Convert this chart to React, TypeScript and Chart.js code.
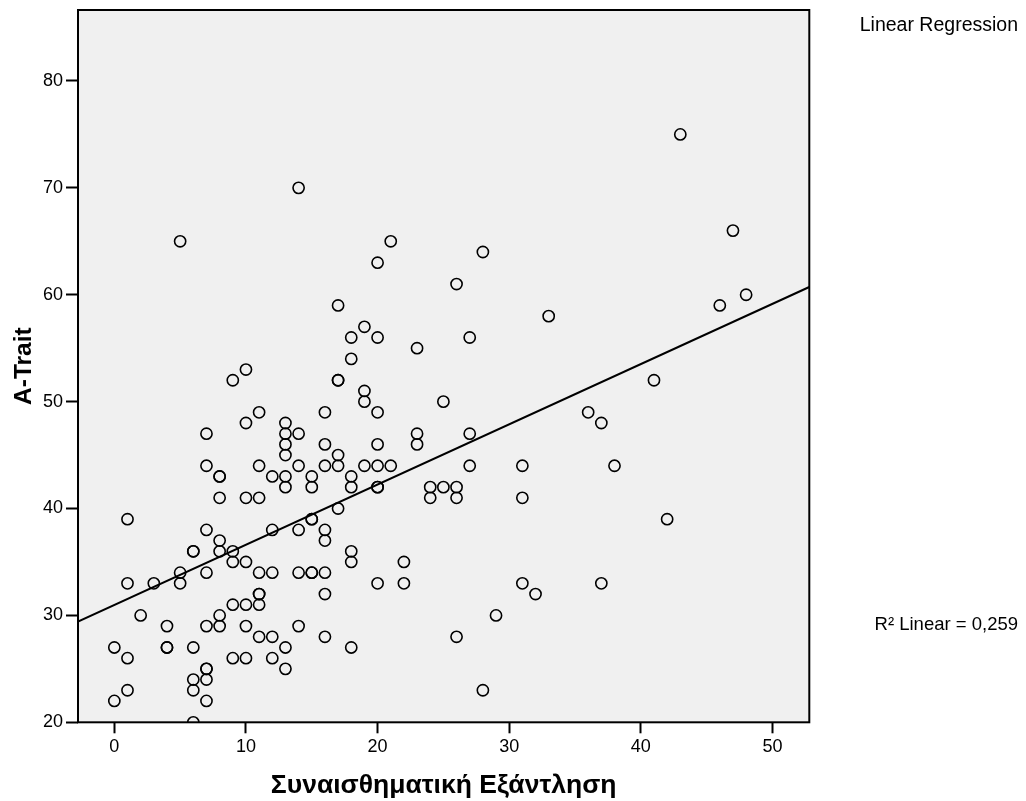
import { useEffect, useRef } from "react";
import { Chart, registerables } from "chart.js";

Chart.register(...registerables);

// Συναισθηματική Εξάντληση (x) and A-Trait (y), one entry per respondent
const exhaustion = [
  0, 0,
  1, 1, 1, 1,
  2,
  3,
  4, 4, 4,
  5, 5, 5,
  6, 6, 6, 6, 6, 6,
  7, 7, 7, 7, 7, 7, 7, 7, 7,
  8, 8, 8, 8, 8, 8, 8,
  9, 9, 9, 9, 9,
  10, 10, 10, 10, 10, 10, 10,
  11, 11, 11, 11, 11, 11, 11, 11,
  12, 12, 12, 12, 12,
  13, 13, 13, 13, 13, 13, 13, 13,
  14, 14, 14, 14, 14, 14,
  15, 15, 15, 15, 15, 15,
  16, 16, 16, 16, 16, 16, 16, 16,
  17, 17, 17, 17, 17, 17,
  18, 18, 18, 18, 18, 18, 18,
  19, 19, 19, 19,
  20, 20, 20, 20, 20, 20, 20, 20,
  21, 21,
  22, 22,
  23, 23, 23,
  24, 24,
  25, 25,
  26, 26, 26, 26,
  27, 27, 27,
  28, 28,
  29,
  31, 31, 31,
  32,
  33,
  36,
  37, 37,
  38,
  41,
  42,
  43,
  46,
  47,
  48,
];

const aTrait = [
  27, 22,
  39, 33, 26, 23,
  30,
  33,
  29, 27, 27,
  65, 34, 33,
  36, 36, 27, 24, 23, 20,
  47, 44, 38, 34, 29, 25, 25, 24, 22,
  43, 43, 41, 37, 36, 30, 29,
  52, 36, 35, 31, 26,
  53, 48, 41, 35, 31, 29, 26,
  49, 44, 41, 34, 32, 32, 31, 28,
  43, 38, 34, 28, 26,
  48, 47, 46, 45, 43, 42, 27, 25,
  70, 47, 44, 38, 34, 29,
  43, 42, 39, 39, 34, 34,
  49, 46, 44, 38, 37, 34, 32, 28,
  59, 52, 52, 45, 44, 40,
  56, 54, 43, 42, 36, 35, 27,
  57, 51, 50, 44,
  63, 56, 49, 46, 44, 42, 42, 33,
  65, 44,
  35, 33,
  55, 47, 46,
  42, 41,
  50, 42,
  61, 42, 41, 28,
  56, 47, 44,
  64, 23,
  30,
  44, 41, 33,
  32,
  58,
  49,
  48, 33,
  44,
  52,
  39,
  75,
  59,
  66,
  60,
];

// Fit line as reported by the picture
const fitIntercept = 30.97;
const fitSlope = 0.5636;
const rSquaredLabel = "R\u00B2 Linear = 0,259";
const fitLegendLabel = "Linear Regression";

const xTitle = "Συναισθηματική Εξάντληση";
const yTitle = "A-Trait";

const xMin = -2.76;
const xMax = 52.8;
const yMin = 20;
const yMax = 86.64;
const tickStep = 10;

const FONT = 'Arial, "Liberation Sans", sans-serif';

const framePlugin = {
  id: "spssFrame",
  beforeDraw(chart: any) {
    const { ctx, chartArea } = chart;
    const { left, top, right, bottom } = chartArea;
    ctx.save();
    ctx.fillStyle = "#ffffff";
    ctx.fillRect(0, 0, chart.width, chart.height);
    ctx.fillStyle = "#f0f0f0";
    ctx.fillRect(left, top, right - left, bottom - top);
    ctx.restore();
  },
  afterDraw(chart: any) {
    const { ctx, chartArea } = chart;
    const { left, top, right, bottom } = chartArea;
    ctx.save();
    ctx.strokeStyle = "#000000";
    ctx.lineWidth = 2;
    ctx.strokeRect(left, top, right - left, bottom - top);
    ctx.fillStyle = "#000000";
    ctx.font = `19.5px ${FONT}`;
    ctx.textAlign = "right";
    ctx.textBaseline = "middle";
    ctx.fillText(fitLegendLabel, 1018, 26);
    ctx.font = `18.5px ${FONT}`;
    ctx.fillText(rSquaredLabel, 1018, 625);
    ctx.restore();
  },
};

export default function App() {
  const canvasRef = useRef<HTMLCanvasElement | null>(null);

  useEffect(() => {
    if (!canvasRef.current) return;
    const points = exhaustion.map((x, i) => ({ x, y: aTrait[i] }));
    const fitLine = [
      { x: xMin, y: fitIntercept + fitSlope * xMin },
      { x: xMax, y: fitIntercept + fitSlope * xMax },
    ];

    const chart = new Chart(canvasRef.current, {
      type: "scatter",
      data: {
        datasets: [
          {
            type: "line",
            label: fitLegendLabel,
            data: fitLine,
            borderColor: "#000000",
            borderWidth: 2,
            pointRadius: 0,
            fill: false,
          } as any,
          {
            label: yTitle,
            data: points,
            pointStyle: "circle",
            pointRadius: 5.6,
            pointBorderWidth: 1.6,
            borderColor: "#000000",
            backgroundColor: "rgba(0,0,0,0)",
          },
        ],
      },
      options: {
        animation: false,
        responsive: false,
        maintainAspectRatio: false,
        devicePixelRatio: 1,
        layout: { padding: { left: 0, top: 10, right: 216.7, bottom: 0 } },
        plugins: {
          legend: { display: false },
          tooltip: { enabled: false },
        },
        scales: {
          x: {
            type: "linear",
            min: xMin,
            max: xMax,
            afterFit(scale: any) {
              scale.height = 78.7;
              scale.paddingLeft = 0;
              scale.paddingRight = 0;
            },
            border: { display: false },
            grid: {
              display: true,
              drawOnChartArea: false,
              drawTicks: true,
              tickLength: 11,
              tickWidth: 2,
              tickColor: "#000000",
            },
            ticks: {
              stepSize: tickStep,
              includeBounds: false,
              color: "#000000",
              padding: 3,
              font: { family: FONT, size: 18 },
            },
            title: {
              display: true,
              text: xTitle,
              color: "#000000",
              padding: { top: 0, bottom: -1 },
              font: { family: FONT, size: 26.5, weight: "bold" },
            },
          },
          y: {
            type: "linear",
            min: yMin,
            max: yMax,
            afterFit(scale: any) {
              scale.width = 78;
              scale.paddingTop = 0;
              scale.paddingBottom = 0;
            },
            border: { display: false },
            grid: {
              display: true,
              drawOnChartArea: false,
              drawTicks: true,
              tickLength: 12,
              tickWidth: 2,
              tickColor: "#000000",
            },
            ticks: {
              stepSize: tickStep,
              includeBounds: false,
              color: "#000000",
              padding: 3,
              font: { family: FONT, size: 18 },
            },
            title: {
              display: true,
              text: yTitle,
              color: "#000000",
              padding: { top: 9.5, bottom: 0 },
              font: { family: FONT, size: 24.5, weight: "bold" },
            },
          },
        },
      },
      plugins: [framePlugin],
    });

    return () => chart.destroy();
  }, []);

  return (
    <div style={{ position: "absolute", left: 0, top: 0, width: 1026, height: 801, background: "#ffffff" }}>
      <canvas ref={canvasRef} width={1026} height={801} style={{ display: "block", width: 1026, height: 801 }} />
    </div>
  );
}
